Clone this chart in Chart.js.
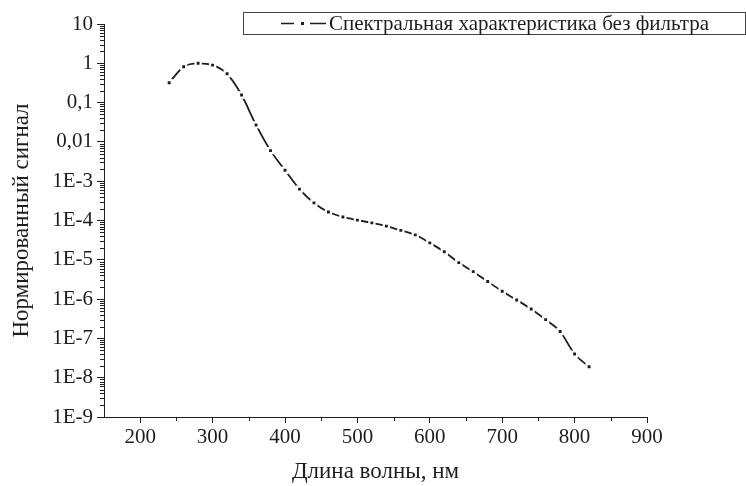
<!DOCTYPE html>
<html lang="ru">
<head>
  <meta charset="UTF-8" />
  <title>Спектральная характеристика</title>
  <script src="https://cdn.jsdelivr.net/npm/chart.js"></script>
  <style>
    html, body { margin: 0; padding: 0; background: #fff; }
    #chart-container { width: 746px; height: 486px; }
  </style>
</head>
<body>
  <div id="chart-container">
    <canvas id="chart"></canvas>
  </div>

  <script>
    // data
    const wavelength = [240, 260, 280, 300, 320, 340, 360, 380, 400, 420, 440, 460, 480, 500, 520,
                        540, 560, 580, 600, 620, 640, 660, 680, 700, 720, 740, 760, 780, 800, 820];
    const signal = [0.32, 0.82, 1.0, 0.9, 0.54, 0.156, 0.027, 0.006, 0.0019, 6.3e-4, 2.8e-4, 1.65e-4, 1.23e-4, 1.02e-4, 8.7e-5,
                    7.2e-5, 5.6e-5, 4.3e-5, 2.7e-5, 1.6e-5, 8.5e-6, 5e-6, 2.8e-6, 1.58e-6, 9.5e-7, 5.6e-7, 3e-7, 1.5e-7, 4e-8, 1.9e-8];
    const seriesLabel = 'Спектральная характеристика без фильтра';

    const xTicks = [200, 300, 400, 500, 600, 700, 800, 900];
    const xMinorTicks = [250, 350, 450, 550, 650, 750, 850];
    const yTicks = [10, 1, 0.1, 0.01, 1e-3, 1e-4, 1e-5, 1e-6, 1e-7, 1e-8, 1e-9];
    const yTickLabels = ['10', '1', '0,1', '0,01', '1E-3', '1E-4', '1E-5', '1E-6', '1E-7', '1E-8', '1E-9'];

    const ink = '#1e1e1e';
    const serif = '"Liberation Serif", "DejaVu Serif", serif';

    // minor ticks + legend box, drawn by hand
    const extras = {
      id: 'extras',
      afterDraw(chart) {
        const ctx = chart.ctx;
        const x = chart.scales.x, y = chart.scales.y;
        ctx.save();
        ctx.strokeStyle = ink;
        ctx.lineWidth = 1;
        ctx.beginPath();
        xMinorTicks.forEach(v => {
          const px = Math.round(x.getPixelForValue(v)) + 0.5;
          ctx.moveTo(px, y.bottom);
          ctx.lineTo(px, y.bottom + 4);
        });
        for (let e = -9; e < 1; e++) {
          for (let m = 2; m <= 9; m++) {
            const py = Math.round(y.getPixelForValue(m * Math.pow(10, e))) + 0.5;
            ctx.moveTo(x.left - 4, py);
            ctx.lineTo(x.left, py);
          }
        }
        ctx.stroke();

        // legend
        const bx = 243.5, by = 12.5, bw = 502, bh = 22;
        ctx.strokeStyle = '#444';
        ctx.strokeRect(bx, by, bw, bh);
        const ly = by + bh / 2;
        ctx.strokeStyle = ink;
        ctx.lineWidth = 1.5;
        ctx.beginPath();
        ctx.moveTo(281, ly); ctx.lineTo(294, ly);
        ctx.moveTo(310, ly); ctx.lineTo(326, ly);
        ctx.stroke();
        ctx.fillStyle = ink;
        ctx.fillRect(301, ly - 1.5, 3, 3);
        ctx.font = '21px ' + serif;
        ctx.textBaseline = 'middle';
        ctx.fillText(seriesLabel, 329, ly + 1);
        ctx.restore();
      }
    };

    const ctx = document.getElementById('chart').getContext('2d');
    new Chart(ctx, {
      type: 'line',
      data: {
        labels: wavelength,
        datasets: [{
          label: seriesLabel,
          data: wavelength.map((w, i) => ({ x: w, y: signal[i] })),
          borderColor: ink,
          borderWidth: 1.8,
          cubicInterpolationMode: 'monotone',
          pointStyle: 'rect',
          pointRadius: 3.6,
          pointBackgroundColor: ink,
          pointBorderColor: '#fff',
          pointBorderWidth: 2.2,
          fill: false
        }]
      },
      options: {
        responsive: true,
        maintainAspectRatio: false,
        animation: false,
        layout: { padding: { top: 24, right: 99, left: 0, bottom: 0 } },
        plugins: {
          legend: { display: false },
          tooltip: { enabled: false }
        },
        scales: {
          x: {
            type: 'linear',
            min: 150,
            max: 900,
            afterBuildTicks: s => { s.ticks = xTicks.map(v => ({ value: v })); },
            afterFit: s => { s.height = 69; },
            grid: { display: true, drawOnChartArea: false, drawTicks: true, tickLength: 6, color: ink },
            border: { display: true, color: ink, width: 1 },
            ticks: { color: ink, font: { family: serif, size: 21 }, padding: 2, maxRotation: 0 },
            title: { display: true, text: 'Длина волны, нм', color: ink, font: { family: serif, size: 23 }, padding: { top: 2, bottom: 0 } }
          },
          y: {
            type: 'logarithmic',
            min: 1e-9,
            max: 10,
            afterBuildTicks: s => { s.ticks = yTicks.map(v => ({ value: v })); },
            afterFit: s => { s.width = 104; },
            grid: { display: true, drawOnChartArea: false, drawTicks: true, tickLength: 7, color: ink },
            border: { display: true, color: ink, width: 1 },
            ticks: {
              color: ink,
              font: { family: serif, size: 21 },
              padding: 4,
              callback: v => {
                const i = yTicks.findIndex(t => Math.abs(Math.log10(t) - Math.log10(v)) < 1e-6);
                return i >= 0 ? yTickLabels[i] : '';
              }
            },
            title: { display: true, text: 'Нормированный сигнал', color: ink, font: { family: serif, size: 23 }, padding: { top: 8, bottom: 0 } }
          }
        }
      },
      plugins: [extras]
    });
  </script>
</body>
</html>
